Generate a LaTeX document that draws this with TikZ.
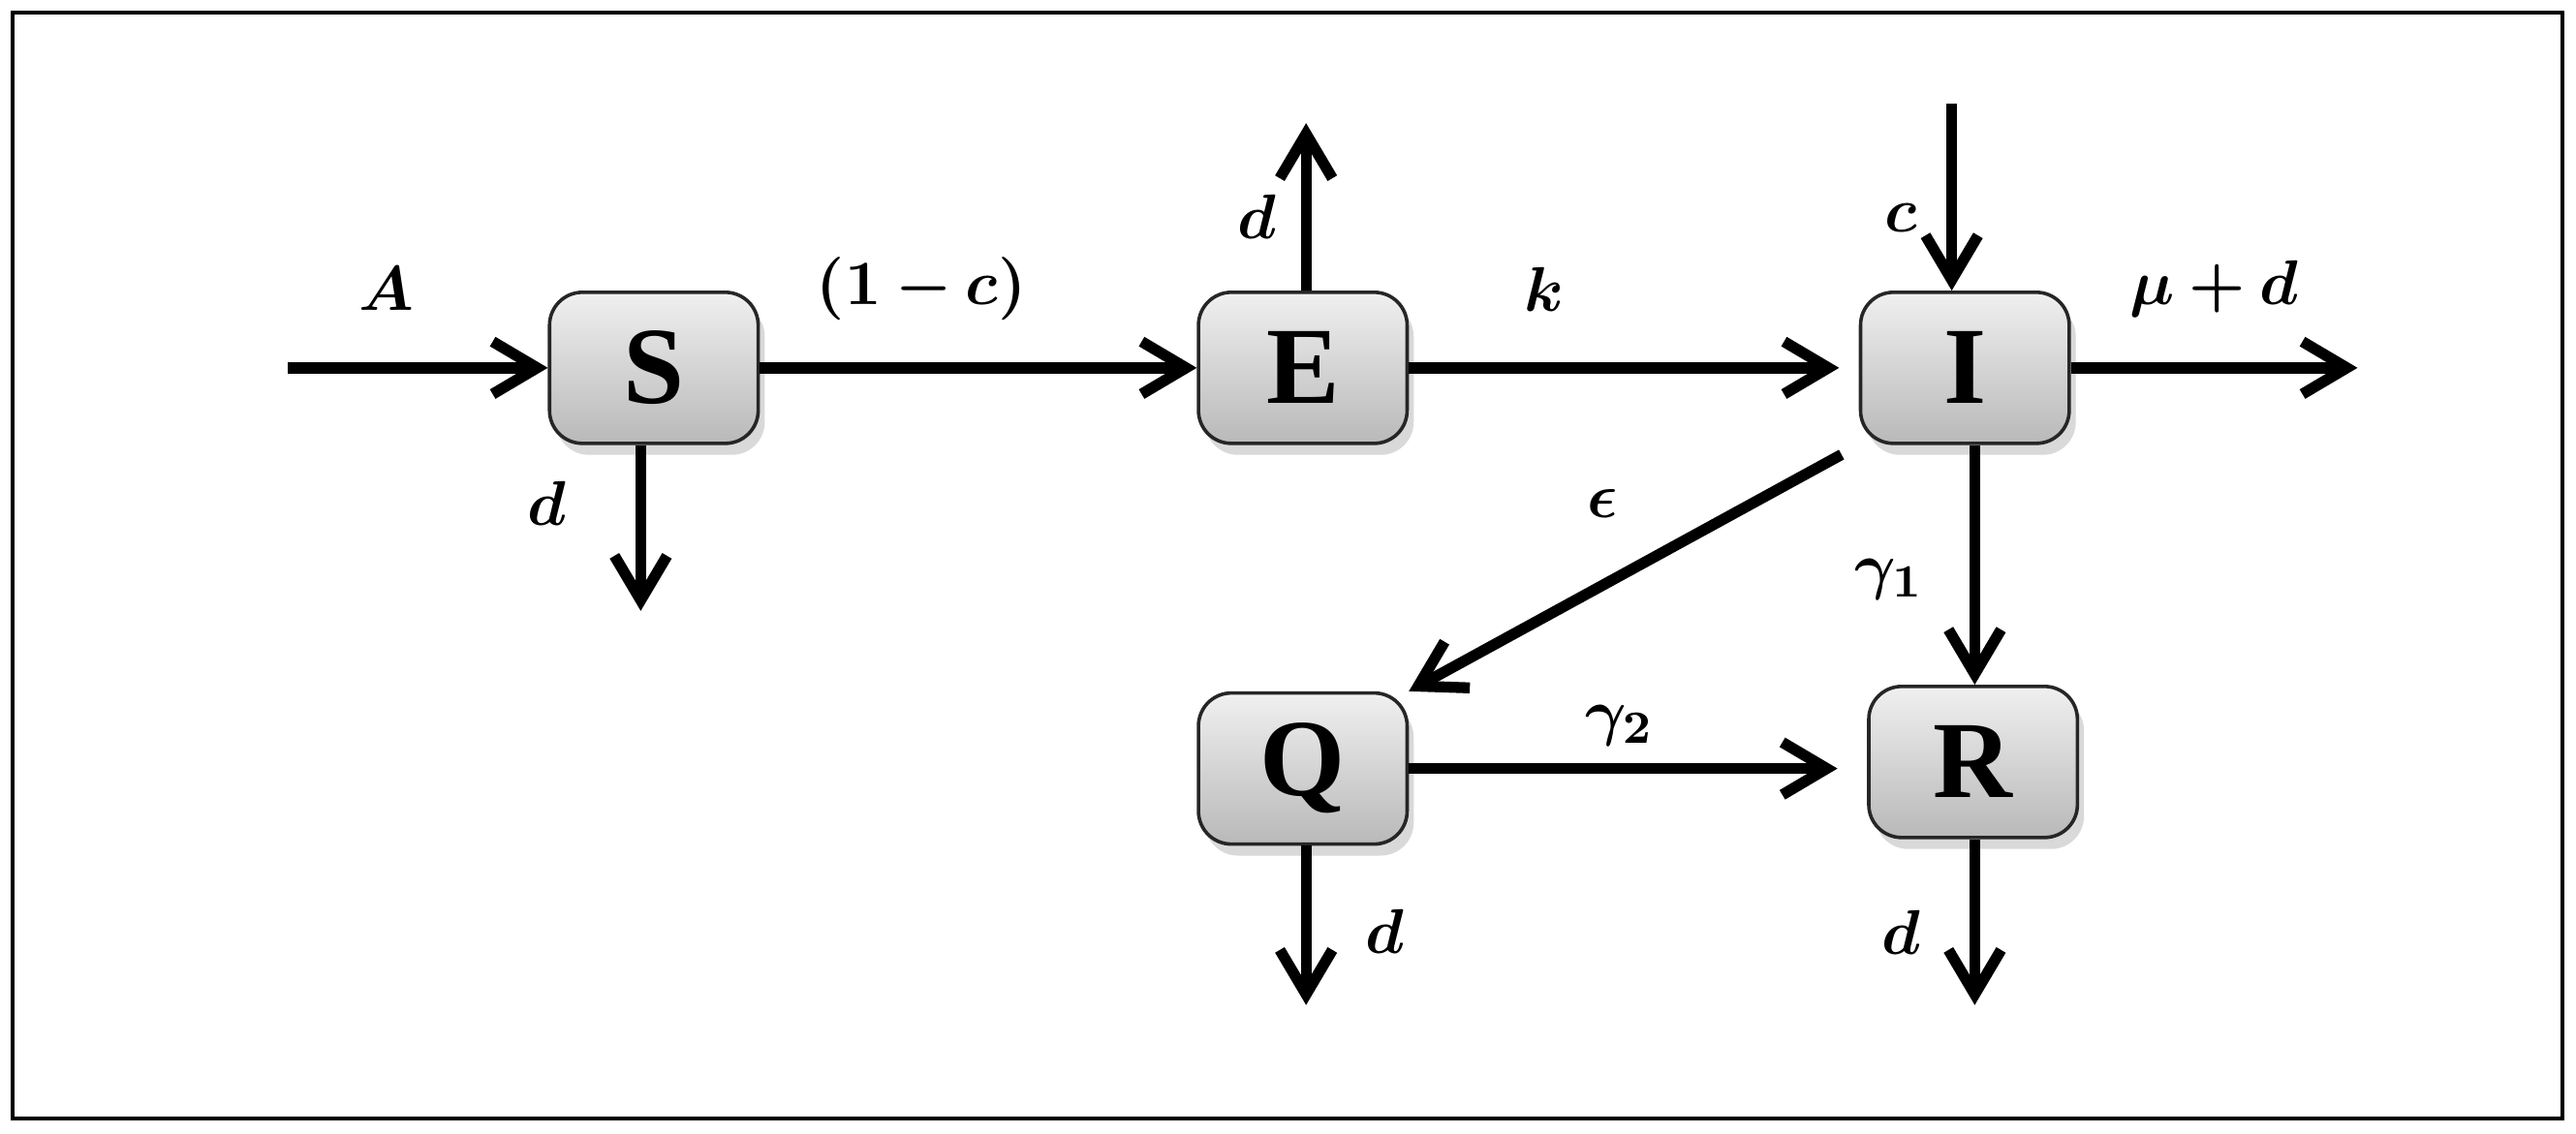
\documentclass[tikz,border=0pt]{standalone}
\usepackage{fontspec}
\usepackage{amsmath,bm}
\newfontfamily\boxfont{Liberation Serif}
\usetikzlibrary{arrows.meta,shadows}

\tikzset{
  compartment/.style={draw=black!85, line width=0.6pt, rounded corners=2mm,
    top color=gray!12, bottom color=gray!55,
    minimum width=1.27cm, minimum height=0.92cm,
    font=\boxfont\fontsize{19}{21}\selectfont\bfseries,
    drop shadow={opacity=0.3, shadow xshift=0.4mm, shadow yshift=-0.7mm}},
  flow/.style={-{Straight Barb[length=2.7mm,width=3.2mm]}, line width=1.9pt},
  rate/.style={font=\fontsize{10.95}{13}\selectfont, inner sep=1pt}
}

\begin{document}
\begin{tikzpicture}

    % Frame
    \useasboundingbox (0,0) rectangle (15.68,6.90);
    \draw[line width=0.7pt] (0.075,0.09) rectangle (15.596,6.823);

    % Compartments
    \node[compartment] (S) at (3.98,4.66) {S};
    \node[compartment] (E) at (7.93,4.66) {E};
    \node[compartment] (I) at (11.96,4.66) {I};
    \node[compartment] (Q) at (7.93,2.22) {Q};
    \node[compartment] (R) at (12.01,2.26) {R};

    % Free ends
    \coordinate (Ain) at (1.75,4.66);
    \coordinate (Sout) at (3.90,3.18);
    \coordinate (Eout) at (7.95,6.15);
    \coordinate (cin) at (11.88,6.27);
    \coordinate (Iout) at (14.35,4.66);
    \coordinate (Qout) at (7.95,0.78);
    \coordinate (Rout) at (12.02,0.78);

    % Flows
    \draw[flow] (Ain) -- node[rate, pos=.38, yshift=4.8mm] {$\bm{A}$} (S);
    \draw[flow] (S) -- node[rate, pos=.37, yshift=4.8mm] {$\bm{(1-c)}$} (E);
    \draw[flow, shorten >=1.2mm] (E) -- node[rate, pos=.3, yshift=4.8mm] {$\bm{k}$} (I);
    \draw[flow] (I) -- node[rate, pos=.5, yshift=4.8mm] {$\bm{\mu+d}$} (Iout);
    \draw[flow] (cin) -- node[rate, pos=.61, xshift=-3.1mm] {$\bm{c}$} (cin |- I.north);
    \draw[flow] (Sout |- S.south) -- node[rate, pos=.35, xshift=-5.7mm] {$\bm{d}$} (Sout);
    \draw[flow] (Eout |- E.north) -- node[rate, pos=.44, xshift=-3mm] {$\bm{d}$} (Eout);
    \draw[flow, shorten <=1.2mm] (I.south west) -- node[rate, pos=.57, yshift=5mm] {$\bm{\epsilon}$} (Q.north east);
    \draw[flow] (Rout |- I.south) -- node[rate, pos=.56, xshift=-5.2mm] {$\bm{\gamma_1}$} (Rout |- R.north);
    \draw[flow, shorten >=1.8mm] (Q.east) -- node[rate, pos=.46, yshift=2.6mm] {$\bm{\gamma_2}$} (Q.east -| R.west);
    \draw[flow] (Qout |- Q.south) -- node[rate, pos=.54, xshift=4.8mm] {$\bm{d}$} (Qout);
    \draw[flow] (Rout |- R.south) -- node[rate, pos=.56, xshift=-4.5mm] {$\bm{d}$} (Rout);

\end{tikzpicture}
\end{document}
